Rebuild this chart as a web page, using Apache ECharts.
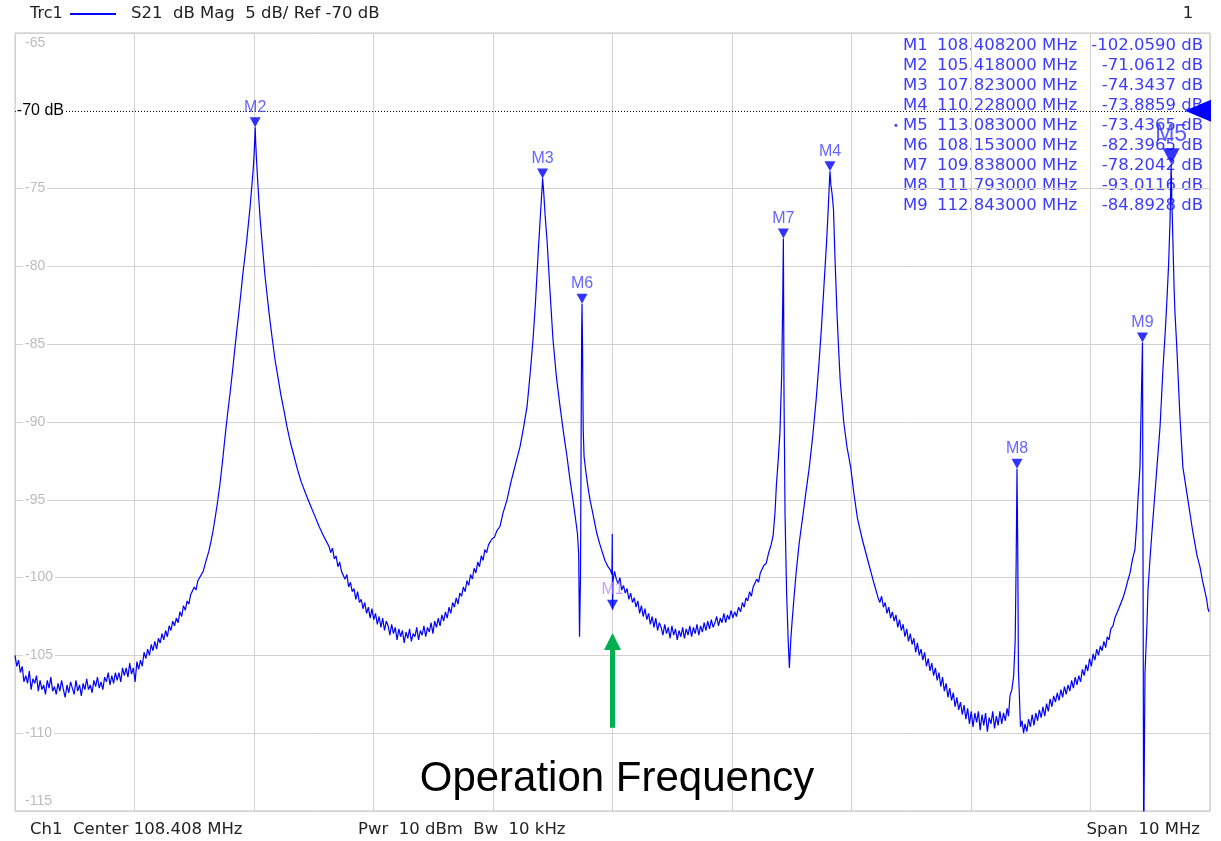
<!DOCTYPE html>
<html>
<head>
<meta charset="utf-8">
<script src="https://cdn.jsdelivr.net/npm/echarts@6/dist/echarts.min.js"></script>
<style>
  html, body { margin: 0; padding: 0; background: #fff; }
  #c { width: 1221px; height: 841px; }
</style>
</head>
<body>
<div id="c"></div>
<script>
// Sweep settings of the analyzer channel
const CENTER_MHZ = 108.408;
const SPAN_MHZ = 10;
const REF_LEVEL_DB = -70;
const DB_PER_DIV = 5;
const Y_MIN_DB = -115;
const Y_MAX_DB = -65;
const OPERATION_MHZ = 108.408;

// Marker readout
const markerNames = ['M1', 'M2', 'M3', 'M4', 'M5', 'M6', 'M7', 'M8', 'M9'];
const markerMHz = [108.4082, 105.418, 107.823, 110.228, 113.083, 108.153, 109.838, 111.793, 112.843];
const markerDB = [-102.0590, -71.0612, -74.3437, -73.8859, -73.4365, -82.3965, -78.2042, -93.0116, -84.8928];
const activeMarker = 'M5';

// Measured S21 magnitude trace: [frequency MHz, dB]
const s21Trace = [
  [103.408,-105.0],[103.423,-105.7],[103.438,-105.3],[103.453,-106.1],[103.468,-105.7],[103.483,-106.7],
  [103.498,-106.3],[103.513,-106.8],[103.528,-106.0],[103.543,-107.2],[103.558,-106.5],[103.573,-106.8],
  [103.588,-106.3],[103.603,-107.3],[103.618,-106.6],[103.633,-107.2],[103.648,-106.9],[103.663,-107.5],
  [103.678,-106.6],[103.693,-107.1],[103.708,-106.4],[103.723,-107.3],[103.738,-107.0],[103.753,-107.5],
  [103.768,-106.8],[103.783,-107.3],[103.798,-106.6],[103.813,-107.2],[103.828,-107.7],[103.843,-106.9],
  [103.858,-107.4],[103.873,-106.7],[103.888,-107.1],[103.903,-107.5],[103.918,-106.6],[103.933,-107.3],
  [103.948,-106.9],[103.963,-107.6],[103.978,-106.8],[103.993,-107.2],[104.008,-106.5],[104.023,-107.2],
  [104.038,-106.9],[104.053,-107.4],[104.068,-106.6],[104.083,-107.0],[104.098,-106.4],[104.113,-107.1],
  [104.128,-106.7],[104.143,-107.2],[104.158,-106.4],[104.173,-106.7],[104.188,-106.1],[104.203,-106.9],
  [104.218,-106.3],[104.233,-106.8],[104.248,-106.1],[104.263,-106.6],[104.278,-106.1],[104.293,-106.7],
  [104.308,-105.8],[104.323,-106.3],[104.338,-105.8],[104.353,-106.4],[104.368,-105.5],[104.383,-106.2],
  [104.398,-105.8],[104.413,-106.7],[104.428,-105.4],[104.443,-105.9],[104.458,-105.3],[104.473,-105.7],
  [104.488,-104.8],[104.503,-105.2],[104.518,-104.6],[104.533,-105.0],[104.548,-104.3],[104.563,-104.7],
  [104.578,-104.1],[104.593,-104.6],[104.608,-103.9],[104.623,-104.2],[104.638,-103.6],[104.653,-104.0],
  [104.668,-103.4],[104.683,-103.8],[104.698,-103.1],[104.713,-103.4],[104.728,-102.8],[104.743,-103.1],
  [104.758,-102.6],[104.773,-102.9],[104.788,-102.2],[104.803,-102.5],[104.818,-101.8],[104.833,-102.1],
  [104.848,-101.5],[104.863,-101.7],[104.878,-101.1],[104.893,-101.2],[104.908,-100.6],[104.923,-100.8],
  [104.938,-100.2],[104.953,-100.3],[104.968,-99.8],[104.983,-99.6],[105.000,-99.1],[105.030,-98.3],
  [105.050,-97.6],[105.065,-97.0],[105.082,-96.2],[105.100,-95.3],[105.123,-94.0],[105.145,-92.5],
  [105.165,-91.0],[105.185,-89.6],[105.207,-88.2],[105.230,-86.6],[105.249,-85.2],[105.266,-84.0],
  [105.282,-82.9],[105.300,-81.6],[105.316,-80.4],[105.333,-79.3],[105.349,-78.2],[105.362,-77.2],
  [105.375,-76.2],[105.388,-75.0],[105.400,-73.9],[105.408,-72.9],[105.414,-71.9],[105.418,-71.0612],
  [105.422,-72.0],[105.428,-73.0],[105.441,-74.8],[105.458,-76.8],[105.475,-78.4],[105.500,-80.6],
  [105.534,-83.0],[105.560,-84.6],[105.584,-86.0],[105.610,-87.2],[105.634,-88.3],[105.660,-89.3],
  [105.684,-90.3],[105.712,-91.3],[105.743,-92.2],[105.770,-93.0],[105.801,-93.8],[105.840,-94.6],
  [105.877,-95.3],[105.915,-96.0],[105.952,-96.7],[105.995,-97.4],[106.036,-98.0],[106.050,-98.4],
  [106.065,-98.1],[106.080,-98.8],[106.095,-98.6],[106.110,-99.3],[106.125,-99.0],[106.140,-99.6],
  [106.155,-99.5],[106.170,-100.1],[106.185,-99.8],[106.200,-100.6],[106.215,-100.3],[106.230,-100.9],
  [106.245,-100.7],[106.260,-101.4],[106.275,-100.9],[106.290,-101.6],[106.305,-101.4],[106.320,-102.0],
  [106.335,-101.6],[106.350,-102.3],[106.365,-101.9],[106.380,-102.6],[106.395,-102.0],[106.410,-102.7],
  [106.425,-102.3],[106.440,-103.0],[106.455,-102.5],[106.470,-103.2],[106.485,-102.6],[106.500,-103.4],
  [106.515,-102.8],[106.530,-103.1],[106.545,-103.7],[106.560,-103.0],[106.575,-103.6],[106.590,-103.2],
  [106.605,-104.0],[106.620,-103.3],[106.635,-103.8],[106.650,-103.4],[106.665,-104.2],[106.680,-103.5],
  [106.695,-103.9],[106.710,-103.3],[106.725,-104.1],[106.740,-103.6],[106.755,-103.8],[106.770,-103.2],
  [106.785,-104.0],[106.800,-103.4],[106.815,-103.7],[106.830,-103.1],[106.845,-103.8],[106.860,-103.2],
  [106.875,-103.5],[106.890,-102.9],[106.905,-103.6],[106.920,-102.8],[106.935,-103.2],[106.950,-102.6],
  [106.965,-103.1],[106.980,-102.4],[106.995,-102.8],[107.010,-102.2],[107.025,-102.6],[107.040,-101.9],
  [107.055,-102.3],[107.070,-101.6],[107.085,-101.9],[107.100,-101.3],[107.115,-101.7],[107.130,-101.0],
  [107.145,-101.2],[107.160,-100.6],[107.175,-100.9],[107.190,-100.2],[107.205,-100.5],[107.220,-99.8],
  [107.235,-100.1],[107.250,-99.4],[107.265,-99.7],[107.280,-99.0],[107.295,-99.3],[107.310,-98.6],
  [107.325,-98.9],[107.340,-98.2],[107.355,-98.4],[107.370,-97.9],[107.385,-98.0],[107.400,-97.5],
  [107.420,-97.4],[107.440,-97.0],[107.467,-96.7],[107.490,-95.9],[107.525,-95.0],[107.560,-93.8],
  [107.600,-92.6],[107.634,-91.6],[107.665,-90.3],[107.693,-89.0],[107.720,-86.8],[107.743,-84.7],
  [107.762,-82.5],[107.777,-80.4],[107.790,-78.6],[107.801,-77.2],[107.812,-75.8],[107.820,-74.8],
  [107.823,-74.3437],[107.832,-75.2],[107.845,-76.8],[107.860,-78.3],[107.885,-81.6],[107.910,-84.7],
  [107.940,-87.2],[107.969,-89.0],[108.000,-90.8],[108.027,-92.2],[108.052,-93.7],[108.077,-95.0],
  [108.100,-96.3],[108.115,-97.2],[108.125,-98.5],[108.132,-103.8],[108.140,-100.0],[108.146,-90.0],
  [108.150,-84.0],[108.153,-82.3965],[108.157,-85.0],[108.163,-90.5],[108.170,-92.2],[108.185,-93.2],
  [108.203,-94.2],[108.220,-95.0],[108.236,-95.6],[108.257,-96.4],[108.278,-97.2],[108.300,-97.8],
  [108.320,-98.3],[108.345,-98.9],[108.370,-99.3],[108.390,-99.5],[108.403,-99.8],[108.406,-97.2],
  [108.4082,-102.059],[108.412,-100.2],[108.425,-99.6],[108.440,-100.1],[108.455,-100.4],[108.470,-100.0],
  [108.485,-100.8],[108.500,-100.5],[108.515,-101.0],[108.530,-100.7],[108.545,-101.4],[108.560,-101.0],
  [108.575,-101.6],[108.590,-101.3],[108.605,-101.9],[108.620,-101.5],[108.635,-102.3],[108.650,-101.8],
  [108.665,-102.5],[108.680,-102.0],[108.695,-102.7],[108.710,-102.3],[108.725,-103.0],[108.740,-102.5],
  [108.755,-103.2],[108.770,-102.6],[108.785,-103.4],[108.800,-102.9],[108.815,-103.2],[108.830,-103.7],
  [108.845,-103.0],[108.860,-103.6],[108.875,-103.2],[108.890,-103.9],[108.905,-103.1],[108.920,-103.7],
  [108.935,-103.3],[108.950,-104.0],[108.965,-103.4],[108.980,-103.8],[108.995,-103.2],[109.010,-103.9],
  [109.025,-103.3],[109.040,-103.7],[109.055,-103.1],[109.070,-103.8],[109.085,-103.2],[109.100,-103.6],
  [109.115,-103.0],[109.130,-103.7],[109.145,-103.1],[109.160,-103.5],[109.175,-102.9],[109.190,-103.4],
  [109.205,-102.8],[109.220,-103.3],[109.235,-102.7],[109.250,-103.2],[109.265,-102.9],[109.280,-102.5],
  [109.295,-103.1],[109.310,-102.6],[109.325,-102.9],[109.340,-102.3],[109.355,-102.9],[109.370,-102.4],
  [109.385,-102.7],[109.400,-102.1],[109.415,-102.6],[109.430,-102.2],[109.445,-102.5],[109.463,-101.9],
  [109.480,-102.2],[109.495,-101.6],[109.510,-101.9],[109.525,-101.3],[109.540,-101.5],[109.555,-100.9],
  [109.570,-101.2],[109.585,-100.6],[109.600,-100.7],[109.615,-100.1],[109.630,-100.3],[109.645,-99.7],
  [109.660,-99.8],[109.675,-99.2],[109.694,-99.1],[109.715,-98.4],[109.735,-97.9],[109.752,-97.3],
  [109.768,-95.8],[109.780,-94.0],[109.795,-92.4],[109.809,-90.7],[109.824,-86.9],[109.832,-82.5],
  [109.838,-78.2042],[109.843,-88.0],[109.852,-96.0],[109.865,-101.0],[109.878,-104.0],[109.888,-105.8],
  [109.900,-104.0],[109.910,-102.9],[109.930,-101.0],[109.947,-99.5],[109.970,-97.8],[109.998,-96.2],
  [110.025,-94.6],[110.055,-92.9],[110.085,-90.8],[110.113,-88.5],[110.135,-86.3],[110.156,-84.0],
  [110.178,-81.2],[110.199,-78.5],[110.212,-76.5],[110.222,-74.8],[110.228,-73.8859],[110.236,-74.8],
  [110.245,-75.3],[110.257,-76.3],[110.270,-79.5],[110.286,-82.9],[110.300,-85.3],[110.314,-87.4],
  [110.343,-90.0],[110.370,-91.6],[110.401,-92.9],[110.430,-94.7],[110.458,-96.2],[110.500,-97.6],
  [110.545,-98.9],[110.590,-100.2],[110.631,-101.3],[110.645,-101.6],[110.660,-101.2],[110.675,-101.9],
  [110.690,-101.6],[110.705,-102.3],[110.720,-101.9],[110.735,-102.6],[110.750,-102.2],[110.765,-102.8],
  [110.780,-102.4],[110.795,-103.2],[110.810,-102.7],[110.825,-103.4],[110.840,-103.0],[110.855,-103.8],
  [110.870,-103.3],[110.885,-104.1],[110.900,-103.6],[110.915,-104.3],[110.930,-103.9],[110.945,-104.8],
  [110.960,-104.2],[110.975,-105.0],[110.990,-104.6],[111.005,-105.3],[111.020,-104.8],[111.035,-105.7],
  [111.050,-105.2],[111.065,-106.0],[111.080,-105.5],[111.095,-106.3],[111.110,-105.8],[111.125,-106.6],
  [111.140,-106.1],[111.155,-107.0],[111.170,-106.4],[111.185,-107.3],[111.200,-106.8],[111.215,-107.7],
  [111.230,-107.1],[111.245,-107.9],[111.260,-107.4],[111.275,-108.3],[111.290,-107.7],[111.305,-108.5],
  [111.320,-108.0],[111.335,-108.8],[111.350,-108.2],[111.365,-109.1],[111.380,-108.4],[111.395,-109.4],
  [111.410,-108.6],[111.425,-109.6],[111.440,-108.7],[111.455,-109.3],[111.470,-108.6],[111.485,-109.8],
  [111.500,-108.8],[111.515,-109.5],[111.530,-108.7],[111.545,-109.9],[111.560,-109.0],[111.575,-109.4],
  [111.590,-108.6],[111.605,-109.7],[111.620,-108.9],[111.635,-109.5],[111.650,-108.6],[111.665,-109.4],
  [111.680,-108.7],[111.695,-109.2],[111.710,-108.4],[111.722,-108.9],[111.734,-107.6],[111.750,-107.2],
  [111.765,-106.3],[111.778,-104.0],[111.786,-99.0],[111.793,-93.0116],[111.799,-98.0],[111.805,-106.0],
  [111.812,-107.4],[111.822,-109.6],[111.835,-109.2],[111.848,-110.0],[111.860,-109.4],[111.875,-109.9],
  [111.890,-109.1],[111.905,-109.6],[111.920,-108.8],[111.935,-109.5],[111.950,-108.7],[111.965,-109.2],
  [111.980,-108.5],[111.995,-109.0],[112.010,-108.3],[112.025,-108.9],[112.040,-108.1],[112.055,-108.6],
  [112.070,-107.8],[112.085,-108.3],[112.100,-107.6],[112.115,-108.0],[112.130,-107.4],[112.145,-107.9],
  [112.160,-107.2],[112.175,-107.7],[112.190,-107.0],[112.205,-107.5],[112.220,-106.9],[112.235,-107.3],
  [112.250,-106.6],[112.265,-107.1],[112.280,-106.4],[112.295,-106.9],[112.310,-106.3],[112.325,-106.7],
  [112.340,-105.9],[112.355,-106.3],[112.370,-105.6],[112.385,-106.0],[112.400,-105.2],[112.415,-105.7],
  [112.430,-104.9],[112.445,-105.3],[112.460,-104.6],[112.475,-105.0],[112.490,-104.4],[112.505,-104.7],
  [112.520,-104.1],[112.535,-104.5],[112.548,-103.8],[112.563,-104.0],[112.578,-103.3],[112.596,-103.1],
  [112.612,-102.6],[112.628,-102.7],[112.644,-102.0],[112.660,-101.9],[112.680,-101.3],[112.700,-100.8],
  [112.720,-100.2],[112.739,-99.7],[112.760,-98.8],[112.780,-98.2],[112.795,-96.5],[112.805,-95.0],
  [112.815,-93.8],[112.822,-92.9],[112.832,-89.0],[112.843,-84.8928],[112.848,-100.0],[112.853,-118.0],
  [112.860,-110.0],[112.864,-106.1],[112.881,-102.9],[112.889,-100.8],[112.905,-98.9],[112.922,-97.1],
  [112.943,-95.0],[112.964,-92.9],[112.990,-90.3],[113.015,-86.5],[113.035,-84.0],[113.048,-82.1],
  [113.062,-79.8],[113.073,-77.2],[113.079,-75.0],[113.083,-73.4365],[113.088,-75.5],[113.098,-78.5],
  [113.108,-81.5],[113.115,-83.0],[113.131,-85.3],[113.156,-89.6],[113.181,-92.9],[113.223,-95.0],
  [113.265,-97.1],[113.300,-98.6],[113.324,-99.3],[113.345,-100.2],[113.366,-100.9],[113.380,-101.4],
  [113.391,-102.0],[113.400,-102.2]
];

// Annotation texts
const traceTitle = 'Trc1';
const traceDesc = 'S21  dB Mag  ' + DB_PER_DIV + ' dB/ Ref ' + REF_LEVEL_DB + ' dB';
const channelNo = '1';
const footerCenter = 'Ch1  Center ' + CENTER_MHZ.toFixed(3) + ' MHz';
const footerPower = 'Pwr  10 dBm  Bw  10 kHz';
const footerSpan = 'Span  ' + SPAN_MHZ + ' MHz';
const operationLabel = 'Operation Frequency';

// ---- drawing ----
const TRACE_BLUE = '#0000ff';
const TEXT_BLUE = '#3c3cff';
const GRID_GRAY = '#d2d2d2';
const VNA_FONT = '"DejaVu Sans", Verdana, sans-serif';
const ARIAL = '"Liberation Sans", Arial, sans-serif';

const half = SPAN_MHZ / 2;
const toOffset = f => f - CENTER_MHZ;   // x axis runs in MHz relative to the centre
const yTicks = [];
for (let v = Y_MIN_DB; v <= Y_MAX_DB; v += DB_PER_DIV) yTicks.push(v);

const markerData = markerNames.map((name, i) => {
  const item = { value: [toOffset(markerMHz[i]), markerDB[i], name] };
  if (name === activeMarker) {
    item.symbolSize = [17, 16];
    item.symbolOffset = [0, -8];
    item.label = { fontSize: 23, color: '#3030ff' };
  }
  if (name === 'M1') {
    item.label = { color: '#b486ff' };
  }
  return item;
});

function txt(text, x, y, align, font, fill, z) {
  return {
    type: 'text', x: x, y: y, z: z, silent: true,
    style: { text: text, font: font, fill: fill, align: align, textAlign: align,
             verticalAlign: 'middle', textVerticalAlign: 'middle' }
  };
}

const HEAD_FONT = '16.5px ' + VNA_FONT;
const graphics = [
  txt(traceTitle, 30, 14, 'left', '16px ' + VNA_FONT, '#222', 1),
  { type: 'line', silent: true, z: 1, shape: { x1: 70, y1: 14, x2: 116, y2: 14 },
    style: { stroke: TRACE_BLUE, lineWidth: 2 } },
  txt(traceDesc, 131, 14, 'left', HEAD_FONT, '#222', 1),
  txt(channelNo, 1188, 14, 'center', HEAD_FONT, '#222', 1),
  txt(footerCenter, 30, 830, 'left', HEAD_FONT, '#222', 1),
  txt(footerPower, 358, 830, 'left', HEAD_FONT, '#222', 1),
  txt(footerSpan, 1200, 830, 'right', HEAD_FONT, '#222', 1),
  txt(operationLabel, 617, 779, 'center', '42px ' + ARIAL, '#000', 1)
];
// marker readout table, drawn beneath the trace
markerNames.forEach((name, i) => {
  const y = 46 + i * 20;
  const font = '16.5px ' + VNA_FONT;
  graphics.push(txt(name, 903, y, 'left', font, TEXT_BLUE, 0));
  graphics.push(txt(markerMHz[i].toFixed(6) + ' MHz', 937, y, 'left', font, TEXT_BLUE, 0));
  graphics.push(txt(markerDB[i].toFixed(4) + ' dB', 1203, y, 'right', font, TEXT_BLUE, 0));
  if (name === activeMarker) graphics.push(txt('\u2022', 893, y, 'left', '10px ' + VNA_FONT, TEXT_BLUE, 0));
});

const option = {
  animation: false,
  backgroundColor: '#fff',
  grid: {
    left: 15, right: 11, top: 33, bottom: 30,
    show: true, borderColor: '#c4c4c4', borderWidth: 1, backgroundColor: '#fff',
    containLabel: false, outerBoundsMode: 'none'
  },
  xAxis: {
    type: 'value', min: -half, max: half, interval: 1,
    axisLine: { show: false }, axisTick: { show: false }, axisLabel: { show: false },
    splitLine: { show: true, lineStyle: { color: GRID_GRAY, width: 1 } }
  },
  yAxis: {
    type: 'value', min: Y_MIN_DB, max: Y_MAX_DB, interval: DB_PER_DIV,
    axisLine: { show: false }, axisTick: { show: false },
    splitLine: { show: true, lineStyle: { width: 1,
      color: yTicks.map(v => v === REF_LEVEL_DB ? 'rgba(0,0,0,0)' : GRID_GRAY) } },
    axisLabel: {
      show: true, inside: true, margin: 0, showMinLabel: true, showMaxLabel: true,
      formatter: v => {
        if (v === REF_LEVEL_DB) return '';
        if (v === Y_MAX_DB) return '{e| }\n{g| }{n|' + v + '}';
        if (v === Y_MIN_DB) return '{g| }{n|' + v + '}\n{e| }';
        return '{g| }{n|' + v + '}';
      },
      rich: {
        g: { width: 8, fontSize: 10 },
        n: { backgroundColor: '#fff', padding: [0, 2], color: '#bcbcbc', fontSize: 14,
             fontFamily: ARIAL, lineHeight: 16 },
        e: { fontSize: 10, lineHeight: 20 }
      }
    }
  },
  graphic: { elements: graphics },
  series: [
    {
      name: 'S21', type: 'line', data: s21Trace.map(p => [toOffset(p[0]), p[1]]),
      showSymbol: false, symbol: 'none', clip: true, silent: true, z: 3,
      lineStyle: { color: TRACE_BLUE, width: 1.2 },
      markLine: {
        silent: true, symbol: 'none', animation: false,
        data: [{
          yAxis: REF_LEVEL_DB,
          lineStyle: { color: '#000', type: [1, 2], width: 1 },
          label: { show: true, position: 'start', distance: -50, formatter: REF_LEVEL_DB + ' dB',
                   color: '#000', fontSize: 16, fontFamily: ARIAL, backgroundColor: '#fff',
                   padding: [1, 1], textBorderWidth: 0 }
        }]
      },
      markPoint: {
        silent: true, animation: false,
        data: [{
          coord: [half, REF_LEVEL_DB], symbol: 'triangle', symbolRotate: 90,
          symbolSize: [22, 26], symbolOffset: [-12, 0],
          itemStyle: { color: TRACE_BLUE }, label: { show: false }
        }]
      }
    },
    {
      name: 'Markers', type: 'scatter', data: markerData, z: 6, silent: true,
      symbol: 'triangle', symbolRotate: 180, symbolSize: [11, 10], symbolOffset: [0, -5],
      itemStyle: { color: TRACE_BLUE },
      label: { show: true, position: 'top', distance: 2, formatter: p => p.value[2],
               color: '#4040ff', fontSize: 16, fontFamily: ARIAL,
               textBorderWidth: 0, textShadowBlur: 0 }
    },
    {
      name: 'Operation', type: 'scatter', data: [], silent: true, z: 4,
      markLine: {
        silent: true, animation: false, symbol: ['none', 'triangle'], symbolSize: [17, 17],
        lineStyle: { color: '#00b050', width: 5, type: 'solid' },
        itemStyle: { color: '#00b050' },
        label: { show: false },
        data: [[ { coord: [toOffset(OPERATION_MHZ), -109.65] },
                 { coord: [toOffset(OPERATION_MHZ), -104.1] } ]]
      }
    }
  ]
};

const chart = echarts.init(document.getElementById('c'), null, { renderer: 'canvas' });
chart.setOption(option);
</script>
</body>
</html>
